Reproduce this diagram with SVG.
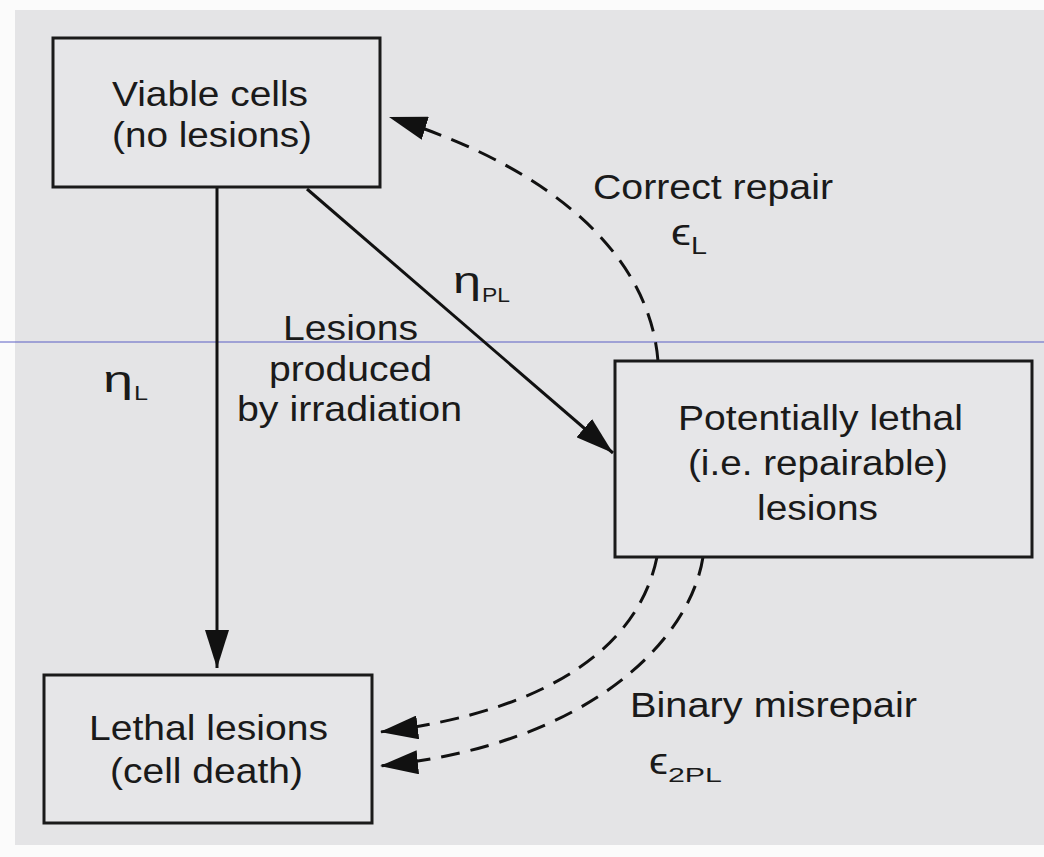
<svg xmlns="http://www.w3.org/2000/svg" width="1044" height="857" viewBox="0 0 1044 857">
  <style>
    .box { fill: #e6e6e8; stroke: #1a1a1a; stroke-width: 3; }
    .t { font-family: "Liberation Sans", Arial, Helvetica, sans-serif; font-size: 35px; fill: #1a1a1a; }
    .g { font-family: "Liberation Sans", "DejaVu Sans", sans-serif; font-size: 36px; fill: #1a1a1a; }
    .sub { font-family: "Liberation Sans", Arial, sans-serif; font-size: 21px; fill: #1a1a1a; }
    .solid { fill: none; stroke: #111; stroke-width: 3; }
    .dash { fill: none; stroke: #111; stroke-width: 3; stroke-dasharray: 19 11; }
  </style>
  <defs>
    <marker id="arrow" viewBox="0 0 38 24" refX="38" refY="12" markerWidth="38" markerHeight="24" markerUnits="userSpaceOnUse" orient="auto">
      <path d="M0,0 L38,12 L0,24 Z" fill="#111"/>
    </marker>
  </defs>
  <rect x="0" y="0" width="1044" height="857" fill="#fbfbfb"/>
  <rect x="15" y="10" width="1029" height="835" fill="#e4e4e6"/>
  <line x1="0" y1="342" x2="1044" y2="342" stroke="#5a5fc4" stroke-width="1"/>

  <g id="connectors">
    <line class="solid" x1="217" y1="188" x2="217" y2="668" marker-end="url(#arrow)"/>
    <line class="solid" x1="307" y1="189" x2="613" y2="453" marker-end="url(#arrow)"/>
    <path class="dash" d="M658,361 C650,260 560,170 389,117" marker-end="url(#arrow)"/>
    <path class="dash" d="M657,557 C640,640 560,710 380,732" marker-end="url(#arrow)"/>
    <path class="dash" d="M703,557 C690,640 590,745 380,766" marker-end="url(#arrow)"/>
  </g>

  <g id="node-viable">
    <rect class="box" x="53" y="38" width="327" height="149"/>
    <text class="t" x="112" y="106" textLength="196" lengthAdjust="spacingAndGlyphs">Viable cells</text>
    <text class="t" x="112" y="147" textLength="200" lengthAdjust="spacingAndGlyphs">(no lesions)</text>
  </g>

  <g id="node-potentially-lethal">
    <rect class="box" x="615" y="361" width="417" height="196"/>
    <text class="t" x="678" y="430" textLength="285" lengthAdjust="spacingAndGlyphs">Potentially lethal</text>
    <text class="t" x="688" y="475" textLength="260" lengthAdjust="spacingAndGlyphs">(i.e. repairable)</text>
    <text class="t" x="757" y="520" textLength="121" lengthAdjust="spacingAndGlyphs">lesions</text>
  </g>

  <g id="node-lethal">
    <rect class="box" x="44" y="675" width="328" height="148"/>
    <text class="t" x="89" y="740" textLength="239" lengthAdjust="spacingAndGlyphs">Lethal lesions</text>
    <text class="t" x="110" y="783" textLength="193" lengthAdjust="spacingAndGlyphs">(cell death)</text>
  </g>

  <g id="labels">
    <text class="t" x="283" y="340" textLength="135" lengthAdjust="spacingAndGlyphs">Lesions</text>
    <text class="t" x="269" y="381" textLength="163" lengthAdjust="spacingAndGlyphs">produced</text>
    <text class="t" x="237" y="421" textLength="225" lengthAdjust="spacingAndGlyphs">by irradiation</text>
    <text class="t" x="593" y="199" textLength="240" lengthAdjust="spacingAndGlyphs">Correct repair</text>
    <text class="t" x="630" y="717" textLength="287" lengthAdjust="spacingAndGlyphs">Binary misrepair</text>

    <text class="g" x="103" y="392" textLength="30" lengthAdjust="spacingAndGlyphs">η</text>
    <text class="sub" x="134" y="400" textLength="14" lengthAdjust="spacingAndGlyphs">L</text>

    <text class="g" x="453" y="293" textLength="28" lengthAdjust="spacingAndGlyphs">η</text>
    <text class="sub" x="482" y="302" textLength="28" lengthAdjust="spacingAndGlyphs">PL</text>

    <text class="g" x="671" y="245" textLength="20" lengthAdjust="spacingAndGlyphs">ϵ</text>
    <text class="sub" x="691" y="254" style="font-size:23px" textLength="16" lengthAdjust="spacingAndGlyphs">L</text>

    <text class="g" x="649" y="774" textLength="19" lengthAdjust="spacingAndGlyphs">ϵ</text>
    <text class="sub" x="668" y="782" textLength="54" lengthAdjust="spacingAndGlyphs">2PL</text>
  </g>
</svg>
